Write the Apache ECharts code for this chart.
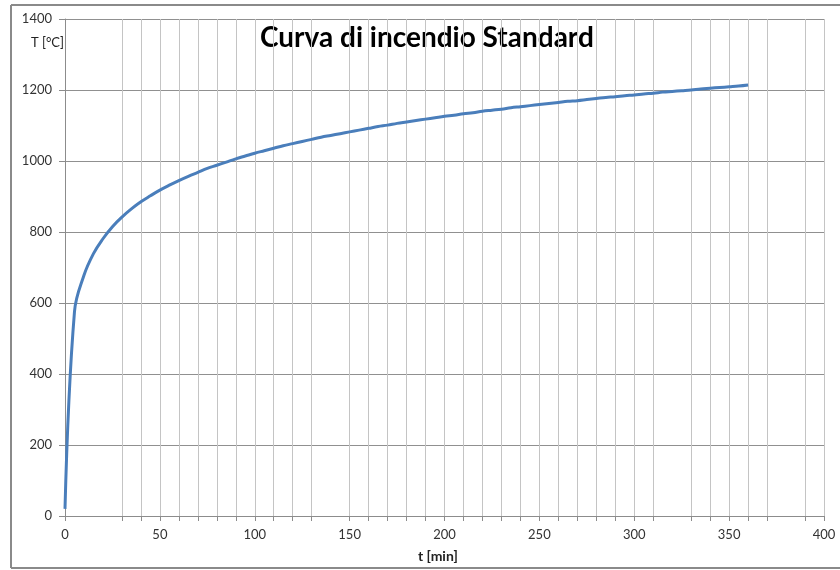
<!DOCTYPE html>
<html><head><meta charset="utf-8">
<script src="https://cdn.jsdelivr.net/npm/echarts@6/dist/echarts.min.js"></script>
<style>html,body{margin:0;padding:0;background:#fff}#c{width:840px;height:570px}</style>
</head><body><div id="c"></div>
<script>
// Time [min] and temperature [°C]
const timeMin = [0,5,10,15,20,25,30,35,40,45,50,55,60,65,70,75,80,85,90,95,100,105,110,115,120,125,130,135,140,145,150,155,160,165,170,175,180,185,190,195,200,205,210,215,220,225,230,235,240,245,250,255,260,265,270,275,280,285,290,295,300,305,310,315,320,325,330,335,340,345,350,355,360];
const tempC = [20,576,678,739,781,815,842,865,885,902,918,932,945,957,968,979,988,997,1006,1014,1022,1029,1036,1043,1049,1055,1061,1067,1072,1077,1082,1087,1092,1097,1101,1106,1110,1114,1118,1122,1126,1129,1133,1136,1140,1143,1146,1150,1153,1156,1159,1162,1165,1168,1170,1173,1176,1179,1181,1184,1186,1189,1191,1194,1196,1198,1200,1203,1205,1207,1209,1211,1214];
// vertical gridlines/ticks visible in the reference (every 10 min, a few absent)
const xTickValues = [0,30,40,50,60,70,80,90,100,110,120,130,150,160,170,180,190,200,210,220,230,240,250,260,270,280,290,300,310,330,340,350,360,370,390,400];
const xLabelValues = [0,50,100,150,200,250,300,350,400];
const titleText = 'Curva di incendio Standard';
const yName = 'T [°C]';
const xName = 't [min]';

const font = 'Lato, "Open Sans", sans-serif';

const chart = echarts.init(document.getElementById('c'), null, {renderer:'canvas'});
chart.setOption({
  animation:false,
  backgroundColor:'#fff',
  grid:{left:65, top:19, width:759, height:497, containLabel:false},
  xAxis:{
    type:'value', min:0, max:400, interval:10,
    axisLine:{show:true, lineStyle:{color:'#8c8c8c', width:1}},
    axisTick:{show:true, length:5, lineStyle:{color:'#8c8c8c'}, customValues:xTickValues},
    axisLabel:{customValues:xLabelValues, color:'#333', fontFamily:font, fontSize:13, margin:12},
    splitLine:{show:false}
  },
  yAxis:{
    type:'value', min:0, max:1400, interval:200,
    axisLine:{show:true, lineStyle:{color:'#8c8c8c', width:1}},
    axisTick:{show:true, length:6, lineStyle:{color:'#8c8c8c'}},
    axisLabel:{color:'#333', fontFamily:font, fontSize:13, margin:13, formatter:v=>String(v)},
    splitLine:{show:true, lineStyle:{color:'#909090', width:1}}
  },
  series:[{
    type:'line', data: timeMin.map((t,i)=>[t,tempC[i]]),
    showSymbol:false, smooth:0.4, z:5,
    lineStyle:{color:'#4a7ebb', width:3},
    markLine:{
      silent:true, symbol:'none', label:{show:false}, z:1,
      lineStyle:{color:'#c4c4c4', width:1, type:'solid'},
      data: xTickValues.filter(v=>v>0).map(v=>({xAxis:v}))
    }
  }],
  graphic:[
    {type:'line', shape:{x1:11, y1:5, x2:840, y2:5}, style:{stroke:'#8a8a8a', lineWidth:2}, z:100},
    {type:'line', shape:{x1:11, y1:5, x2:11, y2:568}, style:{stroke:'#8a8a8a', lineWidth:2}, z:100},
    {type:'line', shape:{x1:11, y1:568, x2:840, y2:568}, style:{stroke:'#8a8a8a', lineWidth:2}, z:100},
    {type:'text', x:260, y:24, style:{text:titleText, font:'bold 28px '+font, fill:'#000'}},
    {type:'text', x:31, y:36, style:{text:yName, font:'13px '+font, fill:'#222'}},
    {type:'text', x:418, y:549, style:{text:xName, font:'bold 14px '+font, fill:'#222'}}
  ]
});
</script></body></html>
